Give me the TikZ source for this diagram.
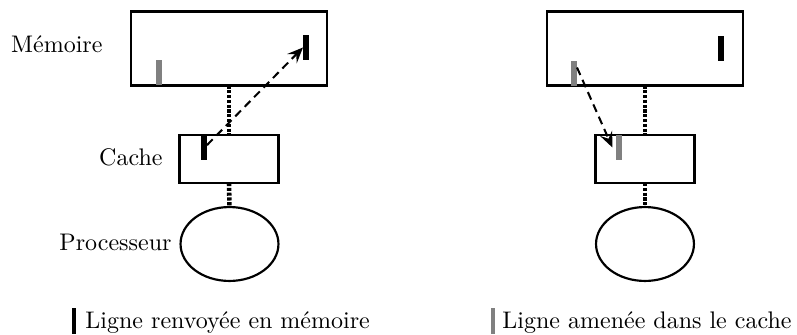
\documentclass[tikz,border=0pt]{standalone}
\usetikzlibrary{arrows.meta,shapes.geometric}
\definecolor{linegray}{gray}{0.5}
\begin{document}
\begin{tikzpicture}[x=0.41667pt,y=-0.41667pt,
  box/.style={draw,line width=0.9pt,inner sep=0pt,outer sep=0pt},
  membox/.style={box,minimum width=81.7pt,minimum height=30.8pt},
  cachebox/.style={box,minimum width=41.3pt,minimum height=20pt},
  procell/.style={draw,ellipse,line width=0.9pt,inner sep=0pt,outer sep=0pt,minimum width=40.8pt,minimum height=30.8pt},
  bar/.style={inner sep=0pt,outer sep=0pt,minimum width=2.5pt,minimum height=10.4pt},
  blackbar/.style={bar,fill=black},
  graybar/.style={bar,fill=linegray},
  legbar/.style={inner sep=0pt,outer sep=0pt,minimum width=1.7pt,minimum height=10.8pt},
  bus/.style={line width=1.9pt,dash pattern=on 1.3pt off 0.7pt},
  move/.style={line width=0.85pt,dash pattern=on 3.4pt off 2.2pt,-{Stealth[length=6.5pt,width=5.5pt,inset=2.5pt]}},
  lbl/.style={inner sep=0pt,anchor=base east}]
\useasboundingbox (0,0) rectangle (797,334);

% ---- write-back: cache line returned to memory ----
\node[membox] (memL) at (229,48.5) {};
\node[cachebox] (cacheL) at (229,159) {};
\node[procell] (procL) at (229.5,244) {};
\draw[bus] (memL.south) -- (cacheL.north);
\draw[bus] (cacheL.south) -- (procL.north);
\node[graybar,anchor=south west] (oldL) at (156,85) {};
\node[blackbar,anchor=north west] (mbarL) at (303,35) {};
\node[blackbar,anchor=north west] (cbarL) at (201,135) {};
\draw[move] ([yshift=1pt]cbarL.east) -- (mbarL.west);

\node[lbl] (lmem) at (103,52) {Mémoire};
\node[lbl] (lcache) at (163,165) {Cache};
\node[lbl] (lproc) at (172,250) {Processeur};

% ---- fetch: memory line brought into the cache ----
\node[membox] (memR) at (645,48.5) {};
\node[cachebox] (cacheR) at (645,159) {};
\node[procell] (procR) at (645,244) {};
\draw[bus] (memR.south) -- (cacheR.north);
\draw[bus] (cacheR.south) -- (procR.north);
\node[graybar,anchor=south west] (gbarR) at (571,86) {};
\node[blackbar,anchor=north west] (mbarR) at (718,36) {};
\node[graybar,anchor=north west] (cbarR) at (616,135) {};
\draw[move] ([yshift=2.5pt]gbarR.east) -- ([xshift=-1.5pt]cbarR.west);

% ---- legend ----
\node[legbar,fill=black,anchor=north west] (legA) at (72,308) {};
\node[inner sep=0pt,anchor=base west] (legAt) at (85,328) {Ligne renvoyée en mémoire};
\node[legbar,fill=linegray,anchor=north west] (legB) at (491,308) {};
\node[inner sep=0pt,anchor=base west] (legBt) at (502,328) {Ligne amenée dans le cache};
\end{tikzpicture}
\end{document}
